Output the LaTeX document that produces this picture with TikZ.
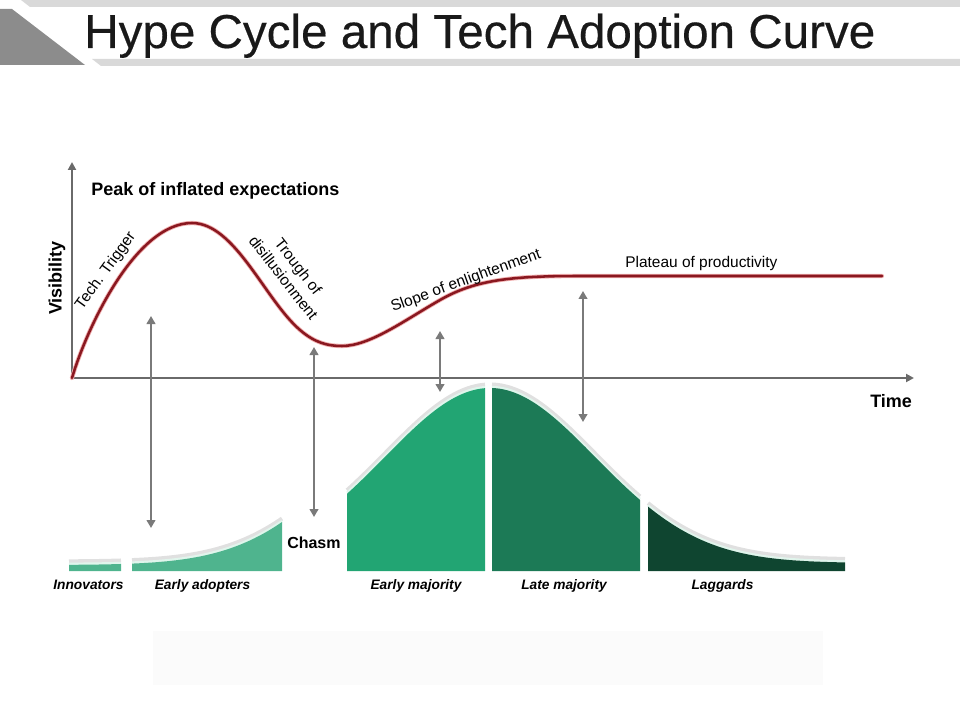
\documentclass[tikz,border=0pt]{standalone}
\usepackage{fontspec}
\setmainfont{Liberation Sans}
\usetikzlibrary{arrows.meta}
\definecolor{hypered}{HTML}{8A1820}
\definecolor{hypeglow}{HTML}{F0B0B0}
\definecolor{axisgray}{HTML}{6A6A6A}
\definecolor{arrowgray}{HTML}{7A7A7A}
\definecolor{gInn}{HTML}{4FB48E}
\definecolor{gEM}{HTML}{22A573}
\definecolor{gLM}{HTML}{1C7A56}
\definecolor{gLag}{HTML}{0F4530}
\definecolor{rimcol}{HTML}{E0F5EC}
\definecolor{bandgray}{HTML}{D9D9D9}
\definecolor{trigray}{HTML}{8C8C8C}
\newcommand\hypecurve{(72,378) .. controls (86,330) and (135,223) .. (192,223)
  .. controls (235,223) and (265,300) .. (300,330)
  .. controls (315,343) and (328,346) .. (342,346)
  .. controls (370,346) and (405,320) .. (440,300)
  .. controls (475,280) and (510,276) .. (580,276) -- (882,276)}
\newcommand\adoptbar[4]{%
  \draw[line width=3pt, draw=black!12] plot[domain=#2:#3, samples=50] (\x,{#1(\x)-3.5});
  \draw[line width=1.8pt, draw=rimcol] plot[domain=#2:#3, samples=50] (\x,{#1(\x)-1});
  \fill[#4] (#2,571) -- plot[domain=#2:#3, samples=50] (\x,{#1(\x)}) -- (#3,571) -- cycle;}
\begin{document}
\begin{tikzpicture}[x=0.75pt,y=-0.75pt,
  declare function={bellR(\t)=571-(8+175*exp(-0.5*((\t-490)/105)*((\t-490)/105)));
                    bellL(\t)=571-(6+175*exp(-0.5*((\t-458)/105)*((\t-458)/105)));},
  axisline/.style={draw=axisgray, line width=1.5pt, -{Triangle[length=6pt,width=6pt]}},
  linkarrow/.style={draw=arrowgray, line width=1.8pt, {Triangle[length=6pt,width=6.5pt]}-{Triangle[length=6pt,width=6.5pt]}},
  titletext/.style={font=\fontsize{35.7}{40}\selectfont\addfontfeature{FakeBold=0.4}, text=black!90, inner sep=0},
  boldlbl/.style={font=\bfseries\fontsize{13.5}{15}\selectfont, inner sep=0},
  curvelbl/.style={font=\fontsize{11.6}{14}\selectfont, inner sep=0},
  barlbl/.style={font=\bfseries\itshape\fontsize{10.3}{12}\selectfont, inner sep=0, anchor=base}]
\useasboundingbox (0,0) rectangle (960,720);
% header
\fill[bandgray] (21,0) -- (960,0) -- (960,7) -- (30,7) -- cycle;
\fill[trigray] (0,9) -- (12,9) -- (85,65) -- (0,65) -- cycle;
\fill[bandgray] (92,59) -- (960,59) -- (960,66) -- (101,66) -- cycle;
\node[titletext, anchor=base west] (title) at (84,48) {Hype Cycle and Tech Adoption Curve};
% faint footer box
\fill[black!1.5] (153,631) rectangle (823,685);
% axes
\coordinate (origin) at (72,378);
\coordinate (ytip) at (72,162);
\coordinate (xtip) at (914,378);
\draw[axisline] (origin) -- (ytip);
\draw[axisline] (origin) -- (xtip);
\node[boldlbl, rotate=90] (vis) at (57,278) {Visibility};
\node[boldlbl, anchor=base west] (time) at (870,407) {Time};
\node[boldlbl, anchor=base west] (peak) at (91,196) {Peak of inflated expectations};
% hype curve
\draw[hypeglow, line width=3.2pt, line cap=round] \hypecurve;
\draw[hypered, line width=1.9pt, line cap=round] \hypecurve;
\node[curvelbl, rotate=54] (trigger) at (106,271) {Tech. Trigger};
\node[curvelbl, rotate=-52, align=center, font=\fontsize{11.6}{14}\selectfont] (trough) at (291,272) {Trough of\\disillusionment};
\node[curvelbl, rotate=20] (slope) at (466,281) {Slope of enlightenment};
\node[curvelbl, anchor=base west] (plateau) at (625,268) {Plateau of productivity};
% adoption curve
\adoptbar{bellL}{69}{121}{gInn}
\adoptbar{bellL}{132}{282}{gInn}
\adoptbar{bellR}{347}{485}{gEM}
\adoptbar{bellR}{492}{640}{gLM}
\adoptbar{bellR}{648}{845}{gLag}
\node[barlbl] (inn) at (88.5,589) {Innovators};
\node[barlbl] (ead) at (202.5,589) {Early adopters};
\node[barlbl] (emj) at (416,589) {Early majority};
\node[barlbl] (lmj) at (564,589) {Late majority};
\node[barlbl] (lag) at (722.5,589) {Laggards};
\node[boldlbl, anchor=base west, font=\bfseries\fontsize{12}{14}\selectfont] (chasm) at (287,548) {Chasm};
% linking arrows
\coordinate (a1t) at (151,316); \coordinate (a1b) at (151,528);
\coordinate (a2t) at (314,347); \coordinate (a2b) at (314,517);
\coordinate (a3t) at (440,331); \coordinate (a3b) at (440,392);
\coordinate (a4t) at (583,291); \coordinate (a4b) at (583,422);
\draw[linkarrow] (a1t) -- (a1b);
\draw[linkarrow] (a2t) -- (a2b);
\draw[linkarrow] (a3t) -- (a3b);
\draw[linkarrow] (a4t) -- (a4b);
\end{tikzpicture}
\end{document}
